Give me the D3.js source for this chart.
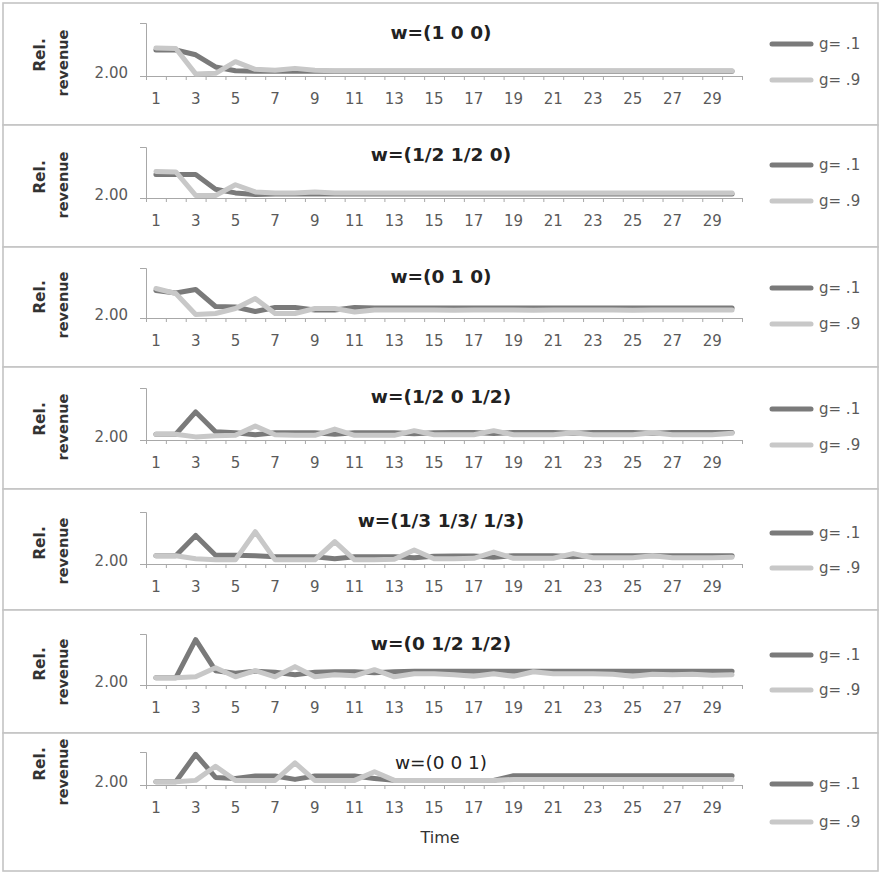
<!DOCTYPE html>
<html>
<head>
<meta charset="utf-8">
<script src="https://cdn.jsdelivr.net/npm/d3@7"></script>
<style>
  html, body { margin: 0; padding: 0; background: #fff; }
  svg { display: block; }
  text { font-family: "DejaVu Sans", Verdana, sans-serif; }
</style>
</head>
<body>
<svg id="chart" width="882" height="873"></svg>
<script>
// Time steps on the horizontal axis
const timeSteps = [1,2,3,4,5,6,7,8,9,10,11,12,13,14,15,16,17,18,19,20,21,22,23,24,25,26,27,28,29,30];
const labelledSteps = [1,3,5,7,9,11,13,15,17,19,21,23,25,27,29];
const yTicks = [2.00];
const seriesNames = ["g= .1", "g= .9"];
const panelTitles = ["w=(1 0 0)", "w=(1/2 1/2 0)", "w=(0 1 0)", "w=(1/2 0 1/2)",
                     "w=(1/3 1/3/ 1/3)", "w=(0 1/2 1/2)", "w=(0 0 1)"];

// Relative revenue per time step, for g = .1 and g = .9
const g1_w100 = [2.245,2.245,2.20,2.085,2.05,2.045,2.045,2.045,2.045,2.045,2.045,2.045,2.045,2.045,2.045,2.045,2.045,2.045,2.045,2.045,2.045,2.045,2.045,2.045,2.045,2.045,2.045,2.045,2.045,2.045];
const g9_w100 = [2.265,2.26,2.02,2.025,2.135,2.063,2.054,2.072,2.055,2.05,2.05,2.05,2.05,2.05,2.05,2.05,2.05,2.05,2.05,2.05,2.05,2.05,2.05,2.05,2.05,2.05,2.05,2.05,2.05,2.05];

const g1_w110 = [2.23,2.23,2.23,2.085,2.05,2.035,2.04,2.04,2.04,2.04,2.04,2.04,2.04,2.04,2.04,2.04,2.04,2.04,2.04,2.04,2.04,2.04,2.04,2.04,2.04,2.04,2.04,2.04,2.04,2.04];
const g9_w110 = [2.26,2.255,2.025,2.025,2.13,2.06,2.05,2.05,2.06,2.05,2.05,2.05,2.05,2.05,2.05,2.05,2.05,2.05,2.05,2.05,2.05,2.05,2.05,2.05,2.05,2.05,2.05,2.05,2.05,2.05];

const g1_w010 = [2.275,2.25,2.285,2.115,2.11,2.065,2.105,2.105,2.08,2.08,2.105,2.10,2.10,2.10,2.10,2.10,2.10,2.10,2.10,2.10,2.10,2.10,2.10,2.10,2.10,2.10,2.10,2.10,2.10,2.10];
const g9_w010 = [2.295,2.245,2.035,2.045,2.095,2.195,2.045,2.045,2.095,2.095,2.06,2.08,2.08,2.08,2.08,2.078,2.08,2.08,2.08,2.078,2.08,2.08,2.08,2.08,2.078,2.08,2.08,2.08,2.08,2.08];

const g1_w101 = [2.055,2.055,2.27,2.08,2.07,2.05,2.07,2.07,2.07,2.055,2.07,2.07,2.07,2.06,2.07,2.072,2.072,2.062,2.072,2.072,2.072,2.065,2.072,2.072,2.072,2.065,2.072,2.072,2.072,2.072];
const g9_w101 = [2.055,2.055,2.03,2.04,2.045,2.135,2.05,2.045,2.045,2.105,2.045,2.045,2.045,2.09,2.05,2.05,2.05,2.09,2.05,2.05,2.05,2.07,2.05,2.05,2.05,2.07,2.05,2.05,2.05,2.065];

const g1_w111 = [2.08,2.08,2.275,2.085,2.085,2.08,2.07,2.07,2.07,2.05,2.07,2.07,2.07,2.06,2.075,2.078,2.078,2.065,2.08,2.08,2.08,2.07,2.08,2.08,2.08,2.08,2.08,2.08,2.08,2.08];
const g9_w111 = [2.08,2.08,2.05,2.04,2.04,2.31,2.04,2.04,2.04,2.215,2.04,2.04,2.045,2.135,2.05,2.05,2.055,2.115,2.055,2.055,2.055,2.10,2.06,2.06,2.06,2.08,2.06,2.06,2.06,2.065];

const g1_w011 = [2.07,2.07,2.445,2.14,2.115,2.135,2.125,2.10,2.125,2.13,2.13,2.12,2.13,2.135,2.135,2.135,2.135,2.135,2.135,2.135,2.135,2.135,2.135,2.135,2.135,2.135,2.135,2.135,2.135,2.135];
const g9_w011 = [2.07,2.07,2.08,2.17,2.08,2.14,2.08,2.18,2.08,2.10,2.09,2.15,2.08,2.11,2.11,2.10,2.085,2.11,2.085,2.13,2.11,2.11,2.11,2.105,2.085,2.105,2.10,2.105,2.095,2.10];

const g1_w001 = [2.05,2.05,2.465,2.115,2.10,2.135,2.135,2.085,2.135,2.135,2.135,2.10,2.07,2.07,2.07,2.07,2.07,2.07,2.14,2.14,2.14,2.14,2.14,2.14,2.14,2.14,2.14,2.14,2.14,2.14];
const g9_w001 = [2.05,2.05,2.07,2.285,2.07,2.07,2.07,2.335,2.07,2.07,2.07,2.20,2.07,2.07,2.07,2.07,2.07,2.07,2.085,2.085,2.085,2.085,2.085,2.085,2.085,2.085,2.085,2.085,2.085,2.085];

const panelSeries = [
  [g1_w100, g9_w100], [g1_w110, g9_w110], [g1_w010, g9_w010], [g1_w101, g9_w101],
  [g1_w111, g9_w111], [g1_w011, g9_w011], [g1_w001, g9_w001]
];

// Frame geometry of each stacked panel
const frames = [
  {top: 3,   bottom: 125, plotTop: 23,  base: 76,  titleY: 32,  bold: true,  legY: [44, 80]},
  {top: 125, bottom: 247, plotTop: 147, base: 198, titleY: 154, bold: true,  legY: [165, 201]},
  {top: 247, bottom: 367, plotTop: 268, base: 318, titleY: 276, bold: true,  legY: [288, 324]},
  {top: 367, bottom: 489, plotTop: 388, base: 440, titleY: 396, bold: true,  legY: [409, 445]},
  {top: 489, bottom: 610, plotTop: 512, base: 564, titleY: 520, bold: true,  legY: [533, 568]},
  {top: 610, bottom: 733, plotTop: 634, base: 685, titleY: 643, bold: true,  legY: [655, 690]},
  {top: 733, bottom: 871, plotTop: 752, base: 785, titleY: 762, bold: false, legY: [784, 822]}
];

const colors = ["#7a7a7a", "#c8c8c8"];
const svg = d3.select("#chart");

const x = d3.scaleBand().domain(timeSteps).range([146, 742]);
const xEdge = d3.scaleLinear().domain([0.5, 30.5]).range([146, 742]);
const cx = t => x(t) + x.bandwidth() / 2;

frames.forEach((f, i) => {
  const g = svg.append("g");

  g.append("rect")
    .attr("x", 3).attr("y", f.top)
    .attr("width", 875).attr("height", f.bottom - f.top)
    .attr("fill", "#fff").attr("stroke", "#c4c4c4").attr("stroke-width", 1.6);

  const y = d3.scaleLinear().domain([2.0, 2.5]).range([f.base, f.plotTop]);

  // y axis: a single labelled tick at the baseline
  const yAx = g.append("g").attr("transform", "translate(146,0)")
    .call(d3.axisLeft(y).tickValues(yTicks).tickFormat(d3.format(".2f")).tickSize(6).tickPadding(12));
  yAx.select(".domain").attr("stroke", "#a8a8a8");
  yAx.selectAll(".tick line").attr("stroke", "#a8a8a8");
  yAx.selectAll("text").attr("font-size", 15).attr("fill", "#5a5a5a")
    .attr("font-family", "DejaVu Sans").attr("dy", "0.1em");

  // x axis: tick marks on category edges, labels on odd steps
  const xMarks = g.append("g").attr("transform", `translate(0,${f.base})`)
    .call(d3.axisBottom(xEdge).tickValues(d3.range(0.5, 31, 1)).tickFormat("").tickSize(4).tickSizeOuter(0));
  xMarks.select(".domain").attr("stroke", "#a8a8a8");
  xMarks.selectAll(".tick line").attr("stroke", "#a8a8a8");

  const xLab = g.append("g").attr("transform", `translate(0,${f.base})`)
    .call(d3.axisBottom(x).tickValues(labelledSteps).tickSize(0).tickPadding(17));
  xLab.select(".domain").remove();
  xLab.selectAll("text").attr("font-size", 15).attr("fill", "#5a5a5a")
    .attr("font-family", "DejaVu Sans");

  // y axis title
  const ly = f.base;
  g.append("text")
    .attr("transform", `translate(40,${ly - 21}) rotate(-90)`)
    .attr("text-anchor", "middle").attr("dominant-baseline", "central")
    .attr("font-size", 15.5).attr("font-weight", "bold").attr("fill", "#333")
    .text("Rel.");
  g.append("text")
    .attr("transform", `translate(63,${ly - 13}) rotate(-90)`)
    .attr("text-anchor", "middle").attr("dominant-baseline", "central")
    .attr("font-size", 14.5).attr("font-weight", "bold").attr("fill", "#333")
    .text("revenue");

  // series lines
  const line = d3.line().x((d, k) => cx(timeSteps[k])).y(d => y(d));
  panelSeries[i].forEach((vals, s) => {
    g.append("path").datum(vals)
      .attr("d", line)
      .attr("fill", "none")
      .attr("stroke", colors[s])
      .attr("stroke-width", 5)
      .attr("stroke-linejoin", "round")
      .attr("stroke-linecap", "round");
  });

  // title
  g.append("text")
    .attr("x", 441).attr("y", f.titleY)
    .attr("text-anchor", "middle").attr("dominant-baseline", "central")
    .attr("font-size", 18.5)
    .attr("font-weight", f.bold ? "bold" : "normal")
    .attr("fill", "#222")
    .text(panelTitles[i]);

  // legend
  seriesNames.forEach((name, s) => {
    g.append("line")
      .attr("x1", 772).attr("x2", 811)
      .attr("y1", f.legY[s]).attr("y2", f.legY[s])
      .attr("stroke", colors[s]).attr("stroke-width", 5)
      .attr("stroke-linecap", "round");
    g.append("text")
      .attr("x", 819).attr("y", f.legY[s])
      .attr("dominant-baseline", "central")
      .attr("font-size", 15).attr("fill", "#5a5a5a")
      .text(name);
  });
});

svg.append("text")
  .attr("x", 440).attr("y", 837)
  .attr("text-anchor", "middle").attr("dominant-baseline", "central")
  .attr("font-size", 16).attr("fill", "#333")
  .text("Time");
</script>
</body>
</html>
